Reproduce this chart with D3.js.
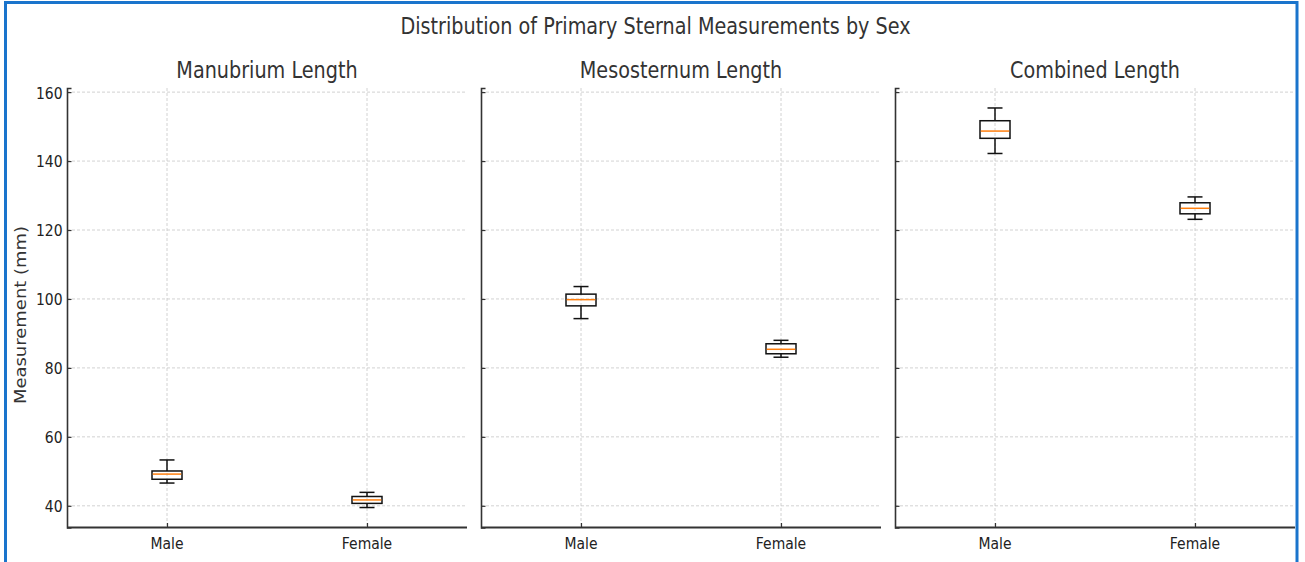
<!DOCTYPE html>
<html>
<head>
<meta charset="utf-8">
<script src="https://cdn.jsdelivr.net/npm/d3@7"></script>
<style>
  html, body { margin: 0; padding: 0; background: #fff; }
  svg { display: block; }
  text { font-family: "DejaVu Sans", sans-serif; fill: #262626; }
</style>
</head>
<body>
<svg id="chart" width="1305" height="562"></svg>
<script>
// ---- data ----
const figureTitle = "Distribution of Primary Sternal Measurements by Sex";
const yLabel = "Measurement (mm)";
const categories = ["Male", "Female"];
const panelTitles = ["Manubrium Length", "Mesosternum Length", "Combined Length"];
const yTicks = [40, 60, 80, 100, 120, 140, 160];
// five-number summaries [lower whisker, Q1, median, Q3, upper whisker]
const manubriumMale = [46.6, 47.7, 49.2, 50.1, 53.3];
const manubriumFemale = [39.5, 40.7, 41.7, 42.7, 43.9];
const mesosternumMale = [94.3, 98.0, 99.8, 101.4, 103.6];
const mesosternumFemale = [83.1, 84.1, 85.4, 87.0, 88.0];
const combinedMale = [142.2, 146.6, 148.7, 151.7, 155.4];
const combinedFemale = [123.1, 124.7, 126.3, 127.9, 129.6];

const panelData = [
  [manubriumMale, manubriumFemale],
  [mesosternumMale, mesosternumFemale],
  [combinedMale, combinedFemale]
];

// ---- layout ----
const svg = d3.select("#chart");
const KX = 0.85; // horizontal squash of the reference rendering
const panelLefts = [67, 481, 895];
const panelW = 400;
const plotTop = 88, plotBottom = 527.5;

const allVals = panelData.flat(2);
const [vmin, vmax] = d3.extent(allVals);
const pad = (vmax - vmin) * 0.05;
const y = d3.scaleLinear().domain([vmin - pad, vmax + pad]).range([plotBottom, plotTop]);
const x = d3.scaleLinear().domain([0.5, 2.5]).range([0, panelW]);
const boxW = x(1.15) - x(1);

// frame
svg.append("rect")
  .attr("x", 5.5).attr("y", 2.5)
  .attr("width", 1291.5).attr("height", 600)
  .attr("fill", "none").attr("stroke", "#1a74cc").attr("stroke-width", 3);

function hText(g, str, px, py, size, anchor, color) {
  return g.append("text")
    .attr("transform", `translate(${px},${py}) scale(${KX},1)`)
    .attr("text-anchor", anchor || "middle")
    .style("font-size", size + "px")
    .style("fill", color || "#262626")
    .text(str);
}

// suptitle
hText(svg, figureTitle, 655.5, 34, 22.6, "middle", "#333");

// y label
svg.append("text")
  .attr("transform", `translate(26,315) scale(${KX},1) rotate(-90)`)
  .attr("text-anchor", "middle")
  .style("font-size", "18px")
  .style("fill", "#333")
  .text(yLabel);

panelTitles.forEach((t, pi) => {
  const g = svg.append("g").attr("transform", `translate(${panelLefts[pi]},0)`);

  // grid
  g.selectAll("line.hg").data(yTicks).join("line")
    .attr("x1", 0).attr("x2", panelW)
    .attr("y1", d => y(d)).attr("y2", d => y(d))
    .attr("stroke", "#c6c6c6").attr("stroke-width", 0.8).attr("stroke-dasharray", "3,2");
  g.selectAll("line.vg").data(categories).join("line")
    .attr("x1", (d, i) => x(i + 1)).attr("x2", (d, i) => x(i + 1))
    .attr("y1", plotTop).attr("y2", plotBottom)
    .attr("stroke", "#c6c6c6").attr("stroke-width", 0.8).attr("stroke-dasharray", "3,2");

  // y axis (ticks inward)
  const ya = g.append("g").call(d3.axisLeft(y).tickValues(yTicks).tickSize(-4.5).tickPadding(0));
  ya.select(".domain").attr("stroke", "#333").attr("stroke-width", 1.6);
  ya.selectAll(".tick line").attr("stroke", "#333").attr("stroke-width", 1.2);
  if (pi === 0) {
    ya.selectAll(".tick text")
      .attr("x", null).attr("dy", null)
      .attr("transform", `translate(-4.5,0) scale(${KX},1)`)
      .attr("dy", "0.36em")
      .style("font-size", "16.4px").style("font-family", "DejaVu Sans").style("fill", "#222");
  } else {
    ya.selectAll(".tick text").remove();
  }

  // x axis (ticks inward)
  const xa = g.append("g").attr("transform", `translate(0,${plotBottom})`)
    .call(d3.axisBottom(x).tickValues([1, 2]).tickSize(-4.5).tickFormat(""));
  xa.select(".domain").attr("stroke", "#333").attr("stroke-width", 2).attr("d", `M0,0H${panelW}`);
  xa.selectAll(".tick line").attr("stroke", "#333").attr("stroke-width", 1.2);
  xa.selectAll(".tick text").remove();
  categories.forEach((c, i) => hText(g, c, x(i + 1), 549, 16.4, "middle", "#222"));

  // subplot title
  hText(g, t, panelW / 2, 78, 22.6, "middle", "#333");

  // boxes
  const boxes = g.selectAll("g.box").data(panelData[pi]).join("g").attr("class", "box")
    .attr("transform", (d, i) => `translate(${x(i + 1)},0)`);
  const sw = 1.5, sc = "#111";
  boxes.append("line").attr("x1", 0).attr("x2", 0)
    .attr("y1", d => y(d[0])).attr("y2", d => y(d[1]))
    .attr("stroke", sc).attr("stroke-width", sw);
  boxes.append("line").attr("x1", 0).attr("x2", 0)
    .attr("y1", d => y(d[3])).attr("y2", d => y(d[4]))
    .attr("stroke", sc).attr("stroke-width", sw);
  boxes.append("line").attr("x1", -boxW / 4).attr("x2", boxW / 4)
    .attr("y1", d => y(d[0])).attr("y2", d => y(d[0]))
    .attr("stroke", sc).attr("stroke-width", sw);
  boxes.append("line").attr("x1", -boxW / 4).attr("x2", boxW / 4)
    .attr("y1", d => y(d[4])).attr("y2", d => y(d[4]))
    .attr("stroke", sc).attr("stroke-width", sw);
  boxes.append("rect")
    .attr("x", -boxW / 2).attr("width", boxW)
    .attr("y", d => y(d[3])).attr("height", d => y(d[1]) - y(d[3]))
    .attr("fill", "none").attr("stroke", sc).attr("stroke-width", sw);
  boxes.append("line").attr("x1", -boxW / 2 + 0.75).attr("x2", boxW / 2 - 0.75)
    .attr("y1", d => y(d[2])).attr("y2", d => y(d[2]))
    .attr("stroke", "#ff7f0e").attr("stroke-width", 1.5);
});
</script>
</body>
</html>
